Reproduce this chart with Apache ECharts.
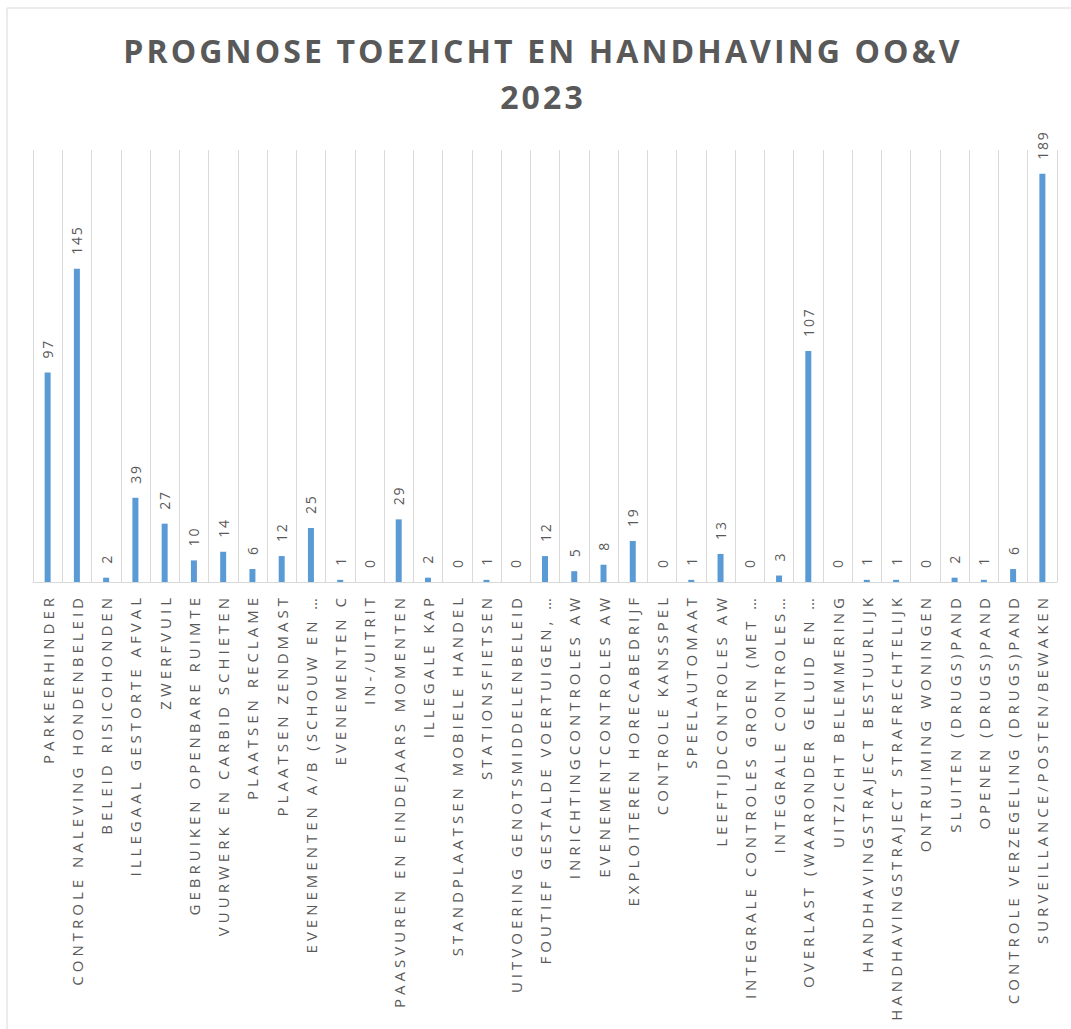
<!DOCTYPE html>
<html>
<head>
<meta charset="utf-8">
<script src="https://cdn.jsdelivr.net/npm/echarts@6/dist/echarts.min.js"></script>
<style>
html,body{margin:0;padding:0;background:#fff;}
#chart{width:1071px;height:1029px;}
#chart text[style*="32px"]{letter-spacing:3.1px;}
#chart text[style*="15px"]{letter-spacing:4px;}
#chart text[style*="14px"]{letter-spacing:1.8px;}
</style>
</head>
<body>
<div id="chart"></div>
<script>
const titleText = 'PROGNOSE TOEZICHT EN HANDHAVING OO&V\n2023';
const categories = [
  'PARKEERHINDER',
  'CONTROLE NALEVING HONDENBELEID',
  'BELEID RISICOHONDEN',
  'ILLEGAAL GESTORTE AFVAL',
  'ZWERFVUIL',
  'GEBRUIKEN OPENBARE RUIMTE',
  'VUURWERK EN CARBID SCHIETEN',
  'PLAATSEN RECLAME',
  'PLAATSEN ZENDMAST',
  'EVENEMENTEN A/B (SCHOUW EN …',
  'EVENEMENTEN C',
  'IN-/UITRIT',
  'PAASVUREN EN EINDEJAARS MOMENTEN',
  'ILLEGALE KAP',
  'STANDPLAATSEN MOBIELE HANDEL',
  'STATIONSFIETSEN',
  'UITVOERING GENOTSMIDDELENBELEID',
  'FOUTIEF GESTALDE VOERTUIGEN, …',
  'INRICHTINGCONTROLES AW',
  'EVENEMENTCONTROLES AW',
  'EXPLOITEREN HORECABEDRIJF',
  'CONTROLE KANSSPEL',
  'SPEELAUTOMAAT',
  'LEEFTIJDCONTROLES AW',
  'INTEGRALE CONTROLES GROEN (MET …',
  'INTEGRALE CONTROLES…',
  'OVERLAST (WAARONDER GELUID EN …',
  'UITZICHT BELEMMERING',
  'HANDHAVINGSTRAJECT BESTUURLIJK',
  'HANDHAVINGSTRAJECT STRAFRECHTELIJK',
  'ONTRUIMING WONINGEN',
  'SLUITEN (DRUGS)PAND',
  'OPENEN (DRUGS)PAND',
  'CONTROLE VERZEGELING (DRUGS)PAND',
  'SURVEILLANCE/POSTEN/BEWAKEN'
];
const values = [97, 145, 2, 39, 27, 10, 14, 6, 12, 25, 1, 0, 29, 2, 0, 1, 0, 12, 5, 8, 19, 0, 1, 13, 0, 3, 107, 0, 1, 1, 0, 2, 1, 6, 189];

const chart = echarts.init(document.getElementById('chart'), null, {renderer: 'svg'});
chart.setOption({
  animation: false,
  backgroundColor: '#ffffff',
  graphic: [{
    type: 'rect',
    shape: {x: 7, y: 8, width: 1200, height: 1200},
    style: {fill: 'none', stroke: '#d9d9d9', lineWidth: 1},
    silent: true
  }],
  title: {
    text: titleText,
    left: 538,
    top: 22,
    textAlign: 'center',
    textStyle: {
      fontFamily: 'Open Sans',
      fontWeight: 'bold',
      fontSize: 32,
      lineHeight: 46,
      color: '#595959'
    }
  },
  grid: {left: 33, right: 14, top: 150, bottom: 447},
  xAxis: {
    type: 'category',
    data: categories,
    boundaryGap: true,
    axisLine: {show: true, lineStyle: {color: '#d9d9d9', width: 1}},
    axisTick: {show: false},
    splitLine: {show: true, interval: 0, lineStyle: {color: '#d9d9d9', width: 1}},
    axisLabel: {
      interval: 0,
      rotate: 90,
      margin: 12,
      fontFamily: 'Open Sans',
      fontSize: 15,
      color: '#595959'
    }
  },
  yAxis: {
    type: 'value',
    min: 0,
    max: 200,
    show: false,
    splitLine: {show: false}
  },
  series: [{
    type: 'bar',
    data: values,
    barWidth: 6,
    itemStyle: {color: '#5B9BD5'},
    label: {
      show: true,
      position: 'top',
      rotate: 90,
      align: 'left',
      verticalAlign: 'middle',
      distance: 14,
      fontFamily: 'Open Sans',
      fontSize: 14,
      color: '#595959'
    }
  }]
});
</script>
</body>
</html>
